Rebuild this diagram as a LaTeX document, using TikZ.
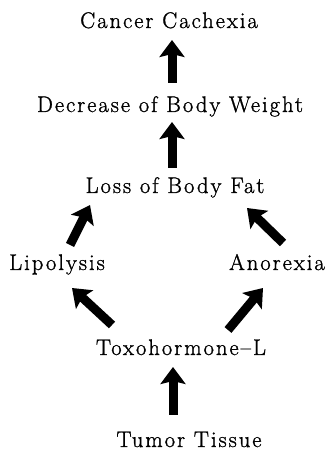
\documentclass[tikz,border=0pt]{standalone}
\usepackage{fontspec}
\setmainfont{Latin Modern Roman}[LetterSpace=9,FakeBold=1.2]
\usetikzlibrary{arrows.meta}

\tikzset{
  label/.style={anchor=base, inner sep=0pt, font=\fontsize{22.5}{26}\selectfont},
  bigarrow/.style={line width=9pt, -{Stealth[width=25pt,length=17pt,inset=3pt]}}
}

\begin{document}
\begin{tikzpicture}[x=1pt,y=1pt]

% Frame (fixes margins)
\useasboundingbox (0,0) rectangle (327,450);

% ============================
% STAGES (baselines)
% ============================
\node[label] (cancer)   at (169,422) {Cancer Cachexia};
\node[label] (decrease) at (170,338) {Decrease of Body Weight};
\node[label] (loss)     at (175,257) {Loss of Body Fat};
\node[label] (lipo)     at (57,180)  {Lipolysis};
\node[label] (anor)     at (277,180) {Anorexia};
\node[label] (toxo)     at (181,95)  {Toxohormone--L};
\node[label] (tumor)    at (189,3)   {Tumor Tissue};

% ============================
% ARROWS
% ============================

% Central column
\draw[bigarrow] ([shift={(-16,32)}]tumor.base) -- ([shift={(-8,-12)}]toxo.base);
\draw[bigarrow] ([shift={(-3,25)}]loss.base) -- ([shift={(2,-10)}]decrease.base);
\draw[bigarrow] ([shift={(2,29)}]decrease.base) -- ([shift={(3,-12)}]cancer.base);

% Left branch
\draw[bigarrow] ([shift={(-69,30)}]toxo.base) -- ([shift={(15,-18)}]lipo.base);
\draw[bigarrow] ([shift={(13,25)}]lipo.base) -- ([shift={(-85,-12)}]loss.base);

% Right branch
\draw[bigarrow] ([shift={(47,25)}]toxo.base) -- ([shift={(-14,-18)}]anor.base);
\draw[bigarrow] ([shift={(6,27)}]anor.base) -- ([shift={(72,-15)}]loss.base);

\end{tikzpicture}
\end{document}
